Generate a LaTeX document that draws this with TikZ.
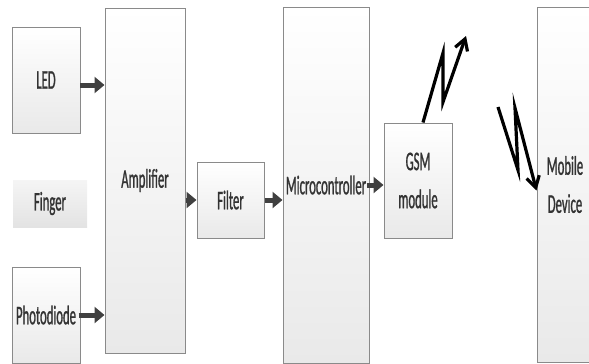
\documentclass[tikz,border=0pt]{standalone}
\usepackage{fontspec}
\newfontfamily\boxfont[FakeStretch=0.47,FakeBold=0.9]{Carlito}
\usetikzlibrary{arrows.meta,calc}
\definecolor{boxgray}{HTML}{8A8A8A}
\definecolor{boxbot}{HTML}{E9E9E9}
\definecolor{txt}{HTML}{333333}
\definecolor{arrcol}{HTML}{404040}
\begin{document}
\begin{tikzpicture}[x=1pt,y=-1pt,
  blk/.style={draw=boxgray, line width=1pt, rectangle, top color=white, bottom color=boxbot,
    font=\boxfont\fontsize{27}{38}\selectfont, text=txt, align=center, inner sep=0pt},
  plain/.style={rectangle, top color=white!96!black, bottom color=white!89!black,
    font=\boxfont\fontsize{27}{38}\selectfont, text=txt, align=center, inner sep=0pt},
  arr/.style={draw=arrcol, line width=5pt, -{Triangle[length=10pt,width=16pt]}},
  bolt/.style={draw=black, line width=3.2pt, line join=miter, miter limit=20,
    -{Straight Barb[length=11pt,width=13pt,line width=3.2pt]}}]
\useasboundingbox (0,0) rectangle (589,364);
\begin{scope}
\clip (0,0) rectangle (589,364);
\node[blk, minimum width=68pt, minimum height=106pt] (led) at (46,80) {LED};
\node[plain, minimum width=74pt, minimum height=47pt] (finger) at (50,203.5) {Finger};
\node[blk, minimum width=68pt, minimum height=96pt] (photo) at (46,315) {Photodiode};
\node[blk, minimum width=80pt, minimum height=345pt] (amp) at (145,180.5) {Amplifier};
\node[blk, minimum width=67pt, minimum height=76pt] (filter) at (230.5,200) {Filter};
\node[blk, minimum width=86pt, minimum height=356pt] (micro) at (326,185) {Microcontroller};
\node[blk, minimum width=68pt, minimum height=115pt] (gsm) at (418,180.5) {GSM\\module};
\node[blk, minimum width=56pt, minimum height=355pt] (mob) at (565,184.5) {Mobile\\Device};

\coordinate (ledout) at (80,85);
\draw[arr] (ledout) -- (ledout -| amp.west);
\draw[arr] ([xshift=-2pt]photo.east) -- (photo.east -| amp.west);
\draw[arr] (amp.east |- filter.west) -- (filter.west);
\draw[arr] (filter.east) -- (filter.east -| micro.west);
\draw[arr] ([xshift=-3pt]micro.east) -- (micro.east -| gsm.west);

\coordinate (upend) at (466,36);
\draw[bolt] ($(gsm.north)+(5,0)$) -- (443,53) -- (443,102) -- (upend);
\coordinate (dnstart) at (498,107);
\draw[bolt] (dnstart) -- (518,170) -- (515,108) -- ($(mob.west)+(0,6)$);
\end{scope}
\end{tikzpicture}
\end{document}
